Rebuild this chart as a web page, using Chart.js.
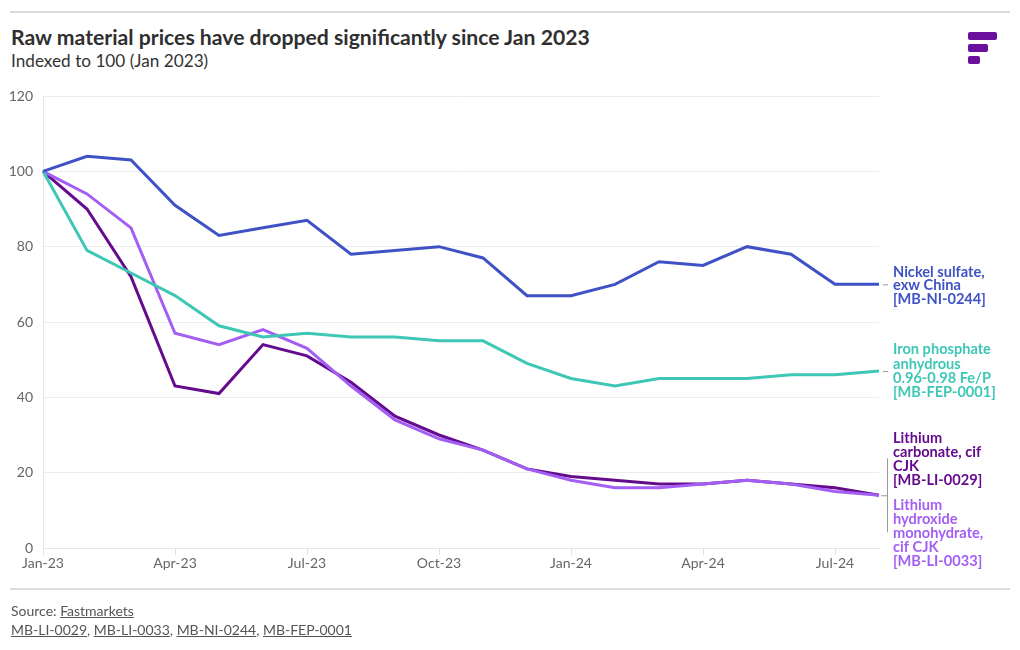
<!DOCTYPE html>
<html>
<head>
<meta charset="utf-8">
<script src="https://cdn.jsdelivr.net/npm/chart.js@4/dist/chart.umd.min.js"></script>
<style>
  html, body { margin: 0; padding: 0; background: #fff; }
  body { width: 1020px; height: 650px; position: relative; overflow: hidden; font-family: Lato, "Open Sans", sans-serif; }
  .rule { position: absolute; left: 10px; width: 1000px; height: 2px; background: #dcdcdc; }
  #title { position: absolute; left: 11px; top: 24px; font-size: 21.2px; font-weight: 700; color: #2f2f2f; }
  #subtitle { position: absolute; left: 11px; top: 50px; font-size: 17.2px; color: #333; }
  #logo { position: absolute; left: 968px; top: 32px; }
  #logo div { height: 8px; border-radius: 2px; background: #6a0f9e; margin-bottom: 4px; }
  #source { position: absolute; left: 11px; top: 601px; font-size: 14px; color: #555; line-height: 19px; }
  #source u { text-decoration: underline; }
  #wrap { position: absolute; left: 0; top: 0; width: 1020px; height: 650px; }
</style>
</head>
<body>
<div class="rule" style="top:11px"></div>
<div id="title">Raw material prices have dropped significantly since Jan 2023</div>
<div id="subtitle">Indexed to 100 (Jan 2023)</div>
<div id="logo"><div style="width:29px"></div><div style="width:20px"></div><div style="width:12px"></div></div>
<div id="wrap"><canvas id="c" width="1020" height="650"></canvas></div>
<div class="rule" style="top:588px"></div>
<div id="source">Source: <u>Fastmarkets</u><br><u>MB-LI-0029</u>, <u>MB-LI-0033</u>, <u>MB-NI-0244</u>, <u>MB-FEP-0001</u></div>
<script>
const months = ["Jan-23","Feb-23","Mar-23","Apr-23","May-23","Jun-23","Jul-23","Aug-23","Sep-23","Oct-23","Nov-23","Dec-23",
                "Jan-24","Feb-24","Mar-24","Apr-24","May-24","Jun-24","Jul-24","Aug-24"];
const nickelSulfate     = [100,104,103,91,83,85,87,78,79,80,77,67,67,70,76,75,80,78,70,70];
const ironPhosphate     = [100,79,73,67,59,56,57,56,56,55,55,49,45,43,45,45,45,46,46,47];
const lithiumCarbonate  = [100,90,72,43,41,54,51,44,35,30,26,21,19,18,17,17,18,17,16,14];
const lithiumHydroxide  = [100,94,85,57,54,58,53,43,34,29,26,21,18,16,16,17,18,17,15,14];
const yTicks = [0,20,40,60,80,100,120];

const C_NI = "#3f52c5", C_FE = "#3fc7b6", C_LC = "#650b8e", C_LH = "#a35ef4";
const FONT = 'Lato, "Open Sans", sans-serif';

const labelPlugin = {
  id: 'endLabels',
  afterDatasetsDraw(chart) {
    const ctx = chart.ctx, y = chart.scales.y, area = chart.chartArea;
    const tx = area.right + 14;
    ctx.save();
    ctx.font = 'bold 14.6px ' + FONT;
    ctx.textAlign = 'left';
    ctx.textBaseline = 'middle';
    const block = (lines, color, cy, lh) => {
      ctx.fillStyle = color;
      const start = cy - (lines.length - 1) * lh / 2;
      lines.forEach((t, i) => ctx.fillText(t, tx, start + i * lh));
    };
    ctx.strokeStyle = '#9a9a9a'; ctx.lineWidth = 1;
    const yNi = y.getPixelForValue(nickelSulfate[nickelSulfate.length-1]);
    const yFe = y.getPixelForValue(ironPhosphate[ironPhosphate.length-1]);
    const yLi = y.getPixelForValue(lithiumCarbonate[lithiumCarbonate.length-1]);
    [yNi, yFe].forEach(v => { ctx.beginPath(); ctx.moveTo(area.right + 4, v + 0.5); ctx.lineTo(area.right + 9, v + 0.5); ctx.stroke(); });
    ctx.beginPath();
    ctx.moveTo(area.right + 8.5, yLi - 37); ctx.lineTo(area.right + 8.5, yLi + 37);
    ctx.moveTo(area.right + 2, yLi + 0.5); ctx.lineTo(area.right + 8.5, yLi + 0.5);
    ctx.stroke();
    block(["Nickel sulfate,", "exw China", "[MB-NI-0244]"], C_NI, yNi + 1, 13.5);
    block(["Iron phosphate", "anhydrous", "0.96-0.98 Fe/P", "[MB-FEP-0001]"], C_FE, yFe, 14.2);
    block(["Lithium", "carbonate, cif", "CJK", "[MB-LI-0029]"], C_LC, yLi - 36, 14);
    block(["Lithium", "hydroxide", "monohydrate,", "cif CJK", "[MB-LI-0033]"], C_LH, yLi + 38, 14);
    ctx.restore();
  }
};

new Chart(document.getElementById('c'), {
  type: 'line',
  data: {
    labels: months,
    datasets: [
      { label: 'Nickel sulfate, exw China [MB-NI-0244]', data: nickelSulfate, borderColor: C_NI, order: 1 },
      { label: 'Iron phosphate anhydrous 0.96-0.98 Fe/P [MB-FEP-0001]', data: ironPhosphate, borderColor: C_FE, order: 2 },
      { label: 'Lithium carbonate, cif CJK [MB-LI-0029]', data: lithiumCarbonate, borderColor: C_LC, order: 4 },
      { label: 'Lithium hydroxide monohydrate, cif CJK [MB-LI-0033]', data: lithiumHydroxide, borderColor: C_LH, order: 3 }
    ].map(d => Object.assign(d, { borderWidth: 3, pointRadius: 0, pointHoverRadius: 0, tension: 0, fill: false, borderJoinStyle: 'miter' }))
  },
  options: {
    responsive: false,
    animation: false,
    devicePixelRatio: 1,
    layout: { padding: { top: 96, right: 141, bottom: 72, left: 0 } },
    plugins: { legend: { display: false }, tooltip: { enabled: false } },
    scales: {
      x: {
        type: 'category',
        offset: false,
        afterFit: s => { s.height = 30; },
        border: { display: true, color: '#e6e6e6' },
        grid: {
          drawOnChartArea: false, drawTicks: true, tickLength: 7,
          color: ctx => (ctx.index % 3 === 0 ? '#e3e3e3' : 'rgba(0,0,0,0)')
        },
        ticks: {
          autoSkip: false, maxRotation: 0, padding: 0,
          color: '#666', font: { family: FONT, size: 14 },
          callback: function(v, i) { return i % 3 === 0 ? months[i] : ''; }
        }
      },
      y: {
        min: 0, max: 120,
        afterFit: s => { s.width = 43; },
        afterBuildTicks: s => { s.ticks = yTicks.map(v => ({ value: v })); },
        border: { display: true, color: '#e6e6e6' },
        grid: { color: '#ededed', drawTicks: false },
        ticks: { padding: 10, color: '#666', font: { family: FONT, size: 14 } }
      }
    }
  },
  plugins: [labelPlugin]
});
</script>
</body>
</html>
